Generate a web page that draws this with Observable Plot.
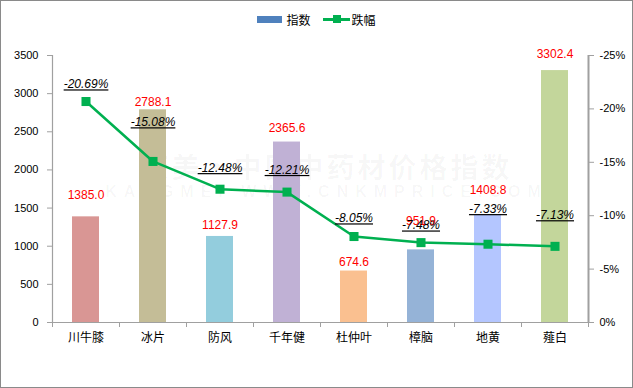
<!DOCTYPE html>
<html><head><meta charset="utf-8">
<script src="https://cdn.jsdelivr.net/npm/d3@7"></script>
<script src="https://cdn.jsdelivr.net/npm/@observablehq/plot@0.6"></script>
<style>
body{margin:0;background:#fff}
#wrap{position:relative;width:633px;height:388px;overflow:hidden;font-family:"Liberation Sans",Arial,sans-serif;background:#fff}
#border{position:absolute;left:0;top:0;width:633px;height:388px;box-sizing:border-box;border:1px solid #8a8a8a;pointer-events:none;z-index:5}
#legend{position:relative;height:38px;display:flex;justify-content:center;align-items:center;font-family:"Noto Sans CJK SC",sans-serif;font-size:12px;color:#000;z-index:2}
.li{display:flex;align-items:center;margin:0 6px}
.sw-bar{width:25px;height:7px;background:#4F81BD;margin-right:4px}
.sw-line{position:relative;width:27px;height:3px;background:#00B050;margin-right:2px}
.sw-line:after{content:"";position:absolute;left:10px;top:-3px;width:8px;height:8px;background:#00B050}
#wm{position:absolute;left:10px;top:152px;width:633px;text-align:center;color:rgba(0,0,0,0.035);font-family:"Noto Sans CJK SC",sans-serif;z-index:0;line-height:1}
#wm .a{font-size:28px;font-weight:bold;letter-spacing:3px}
#wm .b{font-size:16px;font-weight:bold;letter-spacing:7px;margin-top:4px;font-family:"Liberation Sans",sans-serif}
#chart{position:relative;z-index:1}
#chart svg{display:block}
g[font-style="italic"] text{text-decoration:underline}
</style>
</head><body>
<div id="wrap">
  <div id="wm"><div class="a">康美·中国中药材价格指数</div><div class="b">KANGMEI WWW.CNKMPRICE.COM</div></div>
  <div id="legend">
    <div class="li"><div class="sw-bar"></div><span>指数</span></div>
    <div class="li"><div class="sw-line"></div><span>跌幅</span></div>
  </div>
  <div id="chart"></div>
  <div id="border"></div>
</div>
<script>
const categories = ["川牛膝","冰片","防风","千年健","杜仲叶","樟脑","地黄","薤白"];
const indexValues = [1385.0, 2788.1, 1127.9, 2365.6, 674.6, 951.9, 1408.8, 3302.4];
const declinePct = [-20.69, -15.08, -12.48, -12.21, -8.05, -7.48, -7.33, -7.13];
const barColors = ["#D99694","#C4BD97","#93CDDD","#C0B1D5","#FAC090","#95B3D7","#B4C6FF","#C3D69B"];
const leftTicks = [0,500,1000,1500,2000,2500,3000,3500];
const pctTicks = [0,-5,-10,-15,-20,-25];
const pctTickLabels = ["0%","-5%","-10%","-15%","-20%","-25%"];
// label nudges (px) as placed in the original chart
const valueLabelDy = [-22,-8,-11,-13.5,-8.5,-29,-24.5,-16];
const pctLabelDy = [-17,-39,-21,-22,-18,-17,-35,-31];

const yMax = 3500, pctMax = 25;
const toY = p => Math.abs(p) / pctMax * yMax;

const data = categories.map((c,i)=>({cat:c, v:indexValues[i], p:declinePct[i], color:barColors[i]}));

const W = 633, H = 350, mL = 52, mR = 45, mT = 17, mB = 66;
const step = (W - mL - mR) / categories.length;
const pxToY = px => px / (H - mT - mB) * yMax;
const axisColor = "#a0a0a0";
const numFont = "'Liberation Sans', Arial, sans-serif";
const cjkFont = "'Noto Sans CJK SC', sans-serif";

const rightTickY = pctTicks.map(toY);
const fmtRight = v => pctTickLabels[rightTickY.findIndex(t => Math.abs(t - v) < 1e-6)];

const marks = [
  Plot.barY(data, {x:"cat", y:"v", fill:d=>d.color}),
  // axis lines
  Plot.ruleY([0], {stroke:axisColor, strokeWidth:1.2}),
  Plot.ruleX([categories[0]], {dx:-step/2, stroke:axisColor, strokeWidth:1.2}),
  Plot.ruleX([categories[categories.length-1]], {dx:step/2, stroke:axisColor, strokeWidth:2}),
  // category boundary ticks
  Plot.ruleX(categories, {x:d=>d, dx:-step/2, y1:0, y2:-pxToY(5), stroke:axisColor}),
  Plot.ruleX([categories[categories.length-1]], {dx:step/2, y1:0, y2:-pxToY(5), stroke:axisColor}),
  Plot.axisX({tickSize:0, tickPadding:11, fontSize:12, fontFamily:cjkFont, label:null}),
  Plot.axisY(leftTicks, {anchor:"left", tickSize:5, tickPadding:9, stroke:axisColor, fontSize:11, fontFamily:numFont, tickFormat:d=>String(d), label:null}),
  Plot.axisY(rightTickY, {anchor:"right", tickSize:5, tickPadding:6, stroke:axisColor, fontSize:11, fontFamily:numFont, tickFormat:fmtRight, label:null}),
  // decline line
  Plot.line(data, {x:"cat", y:d=>toY(d.p), stroke:"#00B050", strokeWidth:2.5}),
  Plot.dot(data, {x:"cat", y:d=>toY(d.p), symbol:"square", r:5.1, fill:"#00B050", stroke:"none"}),
];
data.forEach((d,i)=>{
  marks.push(Plot.text([d], {x:"cat", y:"v", text:d=>d.v.toFixed(1), dy:valueLabelDy[i], fill:"#FF0000", fontSize:12, fontFamily:numFont}));
  marks.push(Plot.text([d], {x:"cat", y:d=>toY(d.p), text:d=>d.p.toFixed(2)+"%", dy:pctLabelDy[i], fill:"#000", fontSize:12, fontStyle:"italic", fontFamily:numFont}));
});

const chart = Plot.plot({
  width:W, height:H, marginTop:mT, marginBottom:mB, marginLeft:mL, marginRight:mR,
  x:{type:"band", domain:categories, paddingInner:0.6, paddingOuter:0.3, axis:null, label:null},
  y:{domain:[0,yMax], axis:null, label:null},
  color:{type:"identity"},
  style:{fontFamily:numFont, fontSize:"11px", color:"#000", background:"transparent", overflow:"visible"},
  marks
});
document.getElementById("chart").appendChild(chart);
</script>
</body></html>
